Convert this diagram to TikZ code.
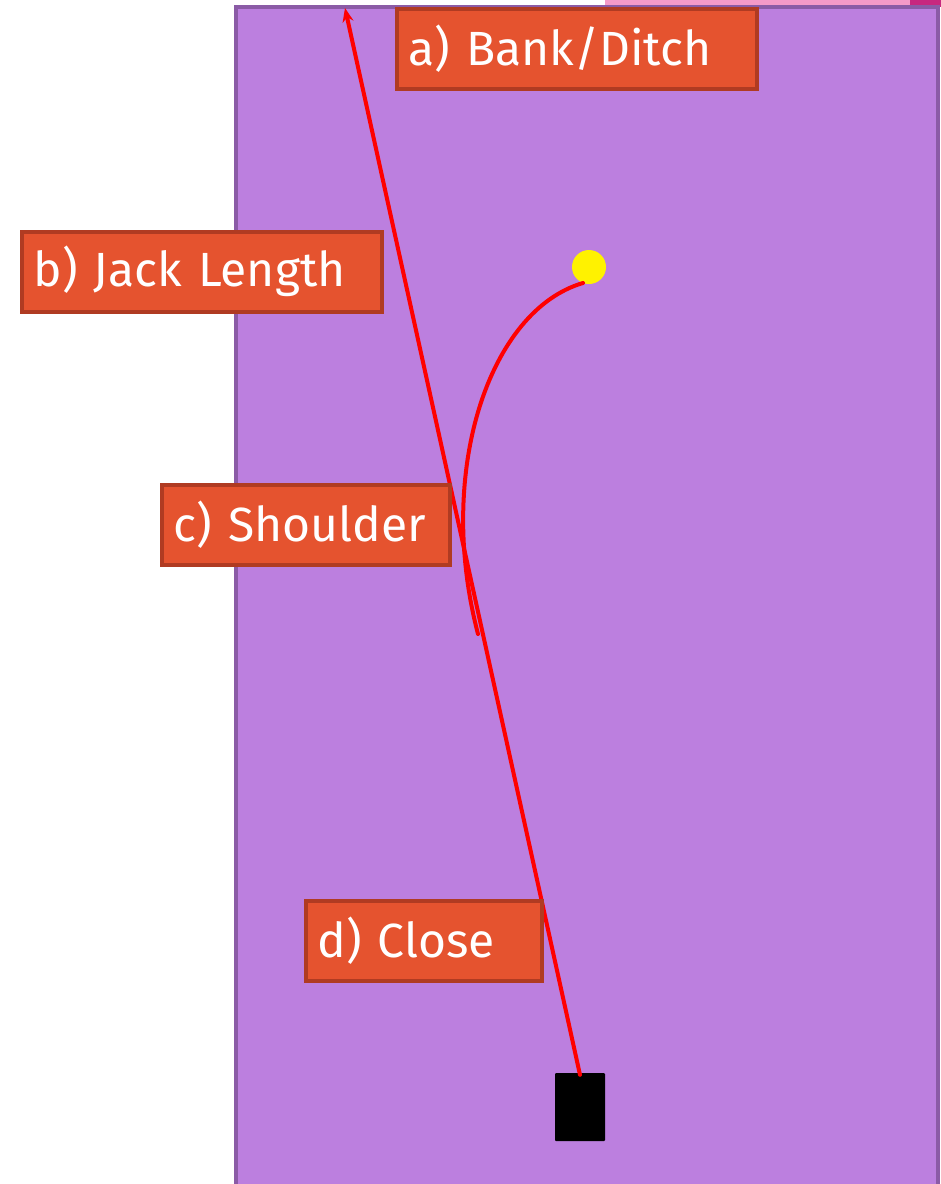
\documentclass[tikz,border=0pt]{standalone}
\usepackage{fontspec}
\setmainfont{Fira Sans}
\usetikzlibrary{arrows.meta}

\definecolor{field}{HTML}{BC7FDF}
\definecolor{fieldedge}{HTML}{8B5BA6}
\definecolor{lblfill}{HTML}{E5532F}
\definecolor{lbledge}{HTML}{B03B22}
\definecolor{stripA}{HTML}{F49AC8}
\definecolor{stripB}{HTML}{C7287F}

\tikzset{
  lbl/.style={draw=lbledge, line width=3.5pt, fill=lblfill, text=white,
    anchor=north west, minimum height=80pt, inner xsep=12pt,
    align=left, font=\fontsize{48}{56}\selectfont},
  route/.style={draw=red, line width=4pt, line cap=round}
}

\begin{document}
\begin{tikzpicture}[x=1pt, y=-1pt]
            \useasboundingbox (0,0) rectangle (941,1184);

            % Top strip
            \fill[stripA] (605,0) rectangle (910,6);
            \fill[stripB] (910,0) rectangle (941,7);

            % Field
            \draw[fieldedge, fill=field, line width=3.5pt] (236,7) rectangle (938,1200);

            % Car and target
            \node[fill=black, rounded corners=1pt, minimum width=50pt, minimum height=68pt, inner sep=0pt] (car) at (580,1107) {};
            \node[fill=yellow, circle, minimum size=34pt, inner sep=0pt] (ball) at (589,267) {};
            \coordinate (tip) at (345,8);
            \coordinate (hook) at (478,634);

            % Paths
            \draw[route, -{Stealth[length=14pt, width=11pt]}] ([yshift=-2pt]car.north) -- (tip);
            \draw[route] ([shift={(-6pt,-16pt)}]ball.center) .. controls (490,310) and (435,470) .. (hook);

            % Labels
            \node[lbl, text width=336pt] (bank) at (395,7) {a) Bank/Ditch};
            \node[lbl, text width=336pt] (jack) at (20,230) {b) Jack Length};
            \node[lbl, text width=264pt] (shoulder) at (160,483) {c) Shoulder};
            \node[lbl, text width=212pt] (close) at (304,899) {d) Close};
            \end{tikzpicture}
\end{document}
